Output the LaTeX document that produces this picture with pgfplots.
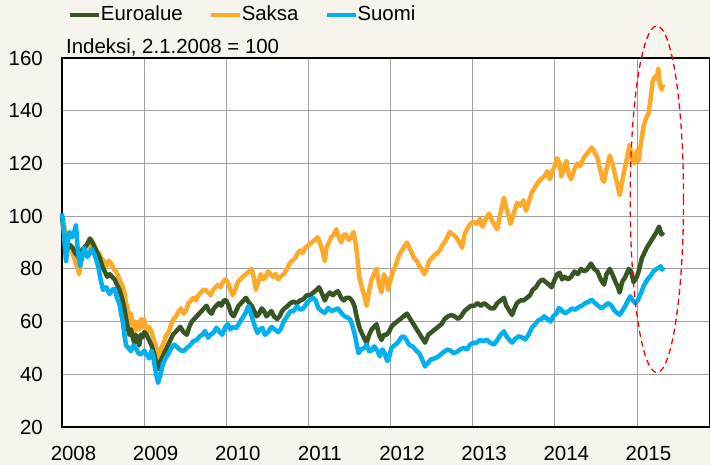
\documentclass[border=0pt]{standalone}
\usepackage{pgfplots}
\pgfplotsset{compat=1.18}
\usepackage{fontspec}
\setmainfont{Liberation Sans}
\definecolor{bg}{HTML}{F7F3ED}
\definecolor{euro}{HTML}{375623}
\definecolor{saksa}{HTML}{FDAA2A}
\definecolor{suomi}{HTML}{00B0F0}
\definecolor{gridc}{HTML}{A0A0A0}
\begin{document}
\fontsize{20.5}{24}\selectfont
\begin{tikzpicture}
\fill[bg] (-62bp,-38bp) rectangle (648bp,427bp);
\begin{axis}[
 at={(0,0)}, anchor=south west,
 scale only axis, width=648bp, height=369bp,
 xmin=2008, xmax=2015.89, ymin=20, ymax=160,
 xtick={2008,2009,2010,2011,2012,2013,2014,2015},
 ytick={20,40,60,80,100,120,140,160},
 /pgf/number format/.cd, 1000 sep={}, assume math mode=true, /pgfplots/.cd,
 tick label style={font=\fontsize{20.5}{24}\selectfont, text=black},
 xticklabel style={anchor=base, inner sep=0pt, xshift=11.5bp, yshift=-33bp},
 yticklabel style={anchor=east, inner sep=0pt, xshift=-19bp},
 major tick length=0pt,
 grid=major, major grid style={gridc, line width=0.8bp},
 axis line style={black, line width=1.5bp},
 axis background/.style={fill=white},
 clip=false,
 legend columns=3,
 legend image code/.code={\draw[#1, line width=4bp] (0bp,0bp) -- (29bp,0bp);},
 legend style={draw=none, fill=none, at={(rel axis cs:0,1)}, anchor=west,
   xshift=6bp, yshift=43bp, inner sep=0pt, outer sep=0pt,
   font=\fontsize{20.5}{24}\selectfont,
   nodes={inner sep=0pt, outer sep=0pt}},
 legend cell align=left,
]
\addlegendimage{euro}
\addlegendentry{Euroalue}
\addlegendimage{saksa, legend image code/.code={\path[draw=none] (-28bp,0bp) -- (0bp,0bp); \draw[saksa, line width=4bp] (0bp,0bp) -- (29bp,0bp);}}
\addlegendentry{Saksa}
\addlegendimage{suomi, legend image code/.code={\path[draw=none] (-28bp,0bp) -- (0bp,0bp); \draw[suomi, line width=4bp] (0bp,0bp) -- (29bp,0bp);}}
\addlegendentry{Suomi}

\addplot[saksa, line width=4.5bp, line join=round, forget plot] coordinates {
(2008.00,100)(2008.02,97)(2008.04,94)(2008.06,92)(2008.08,87)(2008.10,88)(2008.13,85.7)(2008.16,83)(2008.18,81)(2008.21,78)
(2008.24,84)(2008.26,87)(2008.29,86)(2008.32,88)(2008.36,91)(2008.39,89)(2008.42,87)(2008.45,86)(2008.48,84)(2008.51,83)
(2008.54,81)(2008.57,83)(2008.60,82)(2008.63,80)(2008.66,79)(2008.70,76)(2008.73,74)(2008.76,71)(2008.78,67)(2008.80,65)
(2008.82,60)(2008.84,63)(2008.86,58)(2008.88,56)(2008.90,60)(2008.92,59)(2008.94,57)(2008.96,61)(2008.98,58)(2009.00,61)
(2009.03,56)(2009.06,58)(2009.09,56)(2009.12,53)(2009.15,50)(2009.18,46)(2009.21,50)(2009.24,52)(2009.27,55)(2009.30,56)
(2009.33,59)(2009.36,61)(2009.39,62)(2009.42,64)(2009.45,65)(2009.48,63)(2009.51,64)(2009.54,67)(2009.57,68)(2009.60,69)
(2009.63,68)(2009.66,70)(2009.69,71)(2009.72,72)(2009.75,72)(2009.78,71)(2009.81,70)(2009.84,72)(2009.87,73)(2009.90,74)
(2009.93,73)(2009.96,75)(2009.99,76)(2010.02,75)(2010.05,72)(2010.08,70)(2010.11,72)(2010.14,75)(2010.17,76)(2010.20,77)
(2010.24,78)(2010.28,79)(2010.31,80)(2010.34,76)(2010.36,72)(2010.39,75)(2010.42,78)(2010.45,76)(2010.48,77)(2010.51,79)
(2010.54,78)(2010.57,77)(2010.60,78)(2010.63,76)(2010.66,77)(2010.70,78)(2010.74,80)(2010.77,82)(2010.80,83)(2010.84,84)
(2010.87,86)(2010.90,87)(2010.93,86)(2010.96,88)(2011.00,89)(2011.04,90)(2011.08,91)(2011.11,92)(2011.14,90)(2011.17,87)
(2011.20,83)(2011.22,88)(2011.25,90)(2011.28,92)(2011.31,93)(2011.34,95)(2011.37,92)(2011.40,90)(2011.43,93)(2011.46,93)
(2011.49,91)(2011.52,92)(2011.55,94)(2011.58,89)(2011.60,83)(2011.62,77)(2011.65,73)(2011.68,70)(2011.71,66)(2011.74,72)
(2011.77,76)(2011.80,78)(2011.83,80)(2011.86,74)(2011.89,71)(2011.92,78)(2011.95,76)(2011.97,72)(2012.00,76)(2012.03,79)
(2012.06,81)(2012.09,84)(2012.12,86)(2012.16,88)(2012.20,90)(2012.23,88)(2012.26,86)(2012.29,84)(2012.32,83)(2012.35,81)
(2012.38,80)(2012.41,78)(2012.44,80)(2012.47,83)(2012.50,84)(2012.53,85)(2012.57,86)(2012.60,87)(2012.63,89)(2012.66,90)
(2012.69,92)(2012.72,94)(2012.76,93)(2012.80,92)(2012.84,90)(2012.87,88)(2012.90,93)(2012.93,95)(2012.97,97)(2013.01,98)
(2013.05,97)(2013.09,99)(2013.12,96)(2013.16,99)(2013.20,101)(2013.24,98)(2013.28,96)(2013.30,95)(2013.33,100)(2013.36,104)
(2013.38,107)(2013.41,103)(2013.44,100)(2013.46,97)(2013.50,101)(2013.54,105)(2013.58,104)(2013.62,106)(2013.65,102)(2013.68,105)
(2013.72,109)(2013.76,111)(2013.80,113)(2013.83,114)(2013.87,115)(2013.91,117)(2013.94,114)(2013.97,117)(2014.00,119)(2014.03,122)
(2014.06,120)(2014.08,115)(2014.11,118)(2014.14,121)(2014.17,116)(2014.20,114)(2014.24,118)(2014.28,120)(2014.31,119)(2014.35,122)
(2014.40,124)(2014.45,126)(2014.49,124)(2014.52,122)(2014.55,118)(2014.58,114)(2014.60,113)(2014.63,118)(2014.67,123)(2014.70,120)
(2014.74,115)(2014.77,111)(2014.79,108)(2014.82,113)(2014.85,118)(2014.88,122)(2014.91,127)(2014.94,122)(2014.97,120)(2015.00,125)
(2015.02,121)(2015.05,128)(2015.08,134)(2015.11,137)(2015.14,139)(2015.17,145)(2015.19,151)(2015.22,153)(2015.24,152)(2015.26,156)
(2015.28,150)(2015.30,148)(2015.32,150)};

\addplot[euro, line width=4.5bp, line join=round, forget plot] coordinates {
(2008.00,100)(2008.02,94)(2008.04,91)(2008.06,90)(2008.08,88)(2008.10,89)(2008.13,88)(2008.16,86)(2008.19,85)(2008.21,84)
(2008.24,87)(2008.27,88)(2008.30,89)(2008.34,91.5)(2008.37,90)(2008.40,88)(2008.43,86)(2008.46,84)(2008.49,81)(2008.52,79)
(2008.55,77)(2008.58,78)(2008.61,77)(2008.64,76)(2008.67,74)(2008.70,72)(2008.73,69)(2008.76,65)(2008.78,61)(2008.80,58)
(2008.82,55)(2008.84,57)(2008.86,54)(2008.88,52)(2008.90,55)(2008.92,53)(2008.94,51)(2008.96,55)(2008.98,54)(2009.00,56)
(2009.03,55)(2009.06,53)(2009.09,51)(2009.12,48)(2009.15,44)(2009.17,42)(2009.20,45)(2009.23,47)(2009.26,49)(2009.29,51)
(2009.32,53)(2009.35,55)(2009.38,56)(2009.41,57)(2009.44,58)(2009.48,56)(2009.52,55)(2009.55,58)(2009.58,60)(2009.61,61)
(2009.64,62)(2009.67,63)(2009.70,64)(2009.73,65)(2009.76,66)(2009.79,64)(2009.82,63)(2009.85,65)(2009.88,66)(2009.91,67)
(2009.94,66)(2009.97,68)(2010.00,68)(2010.03,66)(2010.06,63)(2010.09,62)(2010.12,64)(2010.15,66)(2010.18,67)(2010.21,68)
(2010.24,69)(2010.28,67)(2010.31,66)(2010.34,64)(2010.37,62)(2010.40,63)(2010.43,65)(2010.46,64)(2010.49,62)(2010.52,63)
(2010.55,64)(2010.58,62)(2010.62,61)(2010.65,62)(2010.68,64)(2010.71,65)(2010.75,66)(2010.78,67)(2010.82,67.5)(2010.86,67)
(2010.90,68)(2010.94,68.5)(2010.98,70)(2011.02,70)(2011.06,71)(2011.10,72)(2011.13,73)(2011.16,71)(2011.20,68)(2011.23,70)
(2011.26,71)(2011.30,70)(2011.33,71)(2011.36,71.5)(2011.40,69)(2011.43,68)(2011.46,69)(2011.50,69)(2011.53,68)(2011.56,66)
(2011.58,63)(2011.61,59)(2011.63,57)(2011.66,55)(2011.69,53)(2011.71,52)(2011.74,55)(2011.77,57)(2011.80,58)(2011.83,59)
(2011.86,55)(2011.89,53)(2011.92,55)(2011.95,55)(2011.98,56)(2012.01,58)(2012.04,59)(2012.08,60)(2012.12,61)(2012.16,62)
(2012.20,63)(2012.24,61)(2012.28,59)(2012.32,57)(2012.36,55)(2012.40,53)(2012.42,52)(2012.46,55)(2012.50,56)(2012.54,57)
(2012.58,58)(2012.62,59)(2012.66,61)(2012.70,62)(2012.74,62.5)(2012.78,62)(2012.82,61)(2012.86,62)(2012.90,64)(2012.94,65)
(2012.98,66)(2013.02,66)(2013.06,67)(2013.10,66)(2013.14,67)(2013.18,66)(2013.22,65)(2013.26,65)(2013.30,67)(2013.34,68)
(2013.38,69)(2013.41,66)(2013.45,64)(2013.48,62.5)(2013.51,65)(2013.54,67)(2013.58,68)(2013.62,68)(2013.66,69)(2013.70,70)
(2013.73,72)(2013.77,73)(2013.81,75)(2013.85,76)(2013.89,75)(2013.93,74)(2013.96,73)(2014.00,76)(2014.03,78)(2014.06,78.5)
(2014.09,76)(2014.12,77)(2014.16,76)(2014.20,77)(2014.24,79)(2014.28,78)(2014.32,80)(2014.36,79)(2014.40,80)(2014.44,82)
(2014.48,80)(2014.52,79)(2014.56,76)(2014.60,74)(2014.63,78)(2014.67,80)(2014.70,78)(2014.74,75)(2014.77,73)(2014.79,71)
(2014.82,75)(2014.86,77)(2014.90,80)(2014.93,79)(2014.96,75)(2015.00,77)(2015.03,80)(2015.06,84)(2015.09,86)(2015.12,88)
(2015.16,90)(2015.20,92)(2015.24,94)(2015.27,96)(2015.30,93)(2015.32,94)};

\addplot[suomi, line width=4.5bp, line join=round, forget plot] coordinates {
(2008.00,101)(2008.02,95)(2008.04,86)(2008.05,83)(2008.07,90)(2008.09,94)(2008.12,92)(2008.14,93)(2008.17,96.6)(2008.19,88)
(2008.22,81)(2008.25,85)(2008.27,88)(2008.29,86)(2008.31,84.5)(2008.34,86)(2008.36,87.6)(2008.40,85)(2008.44,81)(2008.47,76)
(2008.50,72)(2008.54,73)(2008.58,70.4)(2008.61,72)(2008.64,72.4)(2008.67,69)(2008.70,66.6)(2008.72,63)(2008.74,60)(2008.76,55)
(2008.78,51)(2008.81,50)(2008.84,48.8)(2008.87,51)(2008.90,50)(2008.93,48)(2008.96,47.5)(2009.00,49)(2009.03,47.5)(2009.06,46)
(2009.09,49)(2009.11,47)(2009.14,41)(2009.17,36.7)(2009.20,40)(2009.23,44)(2009.26,46)(2009.30,48)(2009.33,50)(2009.37,51.3)
(2009.41,50)(2009.45,49)(2009.48,48.8)(2009.52,50)(2009.56,51)(2009.60,52.6)(2009.64,53)(2009.68,54.5)(2009.71,55)(2009.74,56.4)
(2009.78,53.9)(2009.81,55)(2009.85,56)(2009.88,57.7)(2009.92,56)(2009.95,55)(2009.99,58)(2010.02,59)(2010.05,57)(2010.08,58)
(2010.12,57.5)(2010.15,59)(2010.19,61)(2010.23,63)(2010.27,65.8)(2010.31,62)(2010.35,58)(2010.38,55.7)(2010.41,57)(2010.44,57.6)
(2010.47,55)(2010.51,56)(2010.55,58)(2010.59,57)(2010.63,56)(2010.66,57)(2010.70,60)(2010.74,62)(2010.78,63.9)(2010.82,64)
(2010.86,65.8)(2010.90,64.5)(2010.94,65)(2010.98,67)(2011.02,68.3)(2011.06,69)(2011.09,68)(2011.12,65.2)(2011.16,64)(2011.20,63.3)
(2011.24,65.2)(2011.28,64)(2011.32,64.5)(2011.36,65)(2011.40,63.3)(2011.44,62)(2011.48,61.5)(2011.51,60.8)(2011.54,58)(2011.57,54.4)
(2011.59,51)(2011.61,48)(2011.64,49.4)(2011.68,50)(2011.71,51.3)(2011.74,48.7)(2011.77,49)(2011.80,50.6)(2011.84,49)(2011.87,46.8)
(2011.90,49.4)(2011.93,48)(2011.96,45)(2011.98,46)(2012.01,50)(2012.05,51)(2012.09,52)(2012.13,54)(2012.16,54.4)(2012.19,53.2)
(2012.23,51)(2012.27,50.6)(2012.31,49)(2012.35,48)(2012.38,46)(2012.42,43)(2012.45,44)(2012.49,45.6)(2012.53,46)(2012.57,46.5)
(2012.61,47.5)(2012.65,48.5)(2012.69,49.4)(2012.73,49)(2012.77,48)(2012.81,48.5)(2012.85,49.5)(2012.89,50)(2012.93,49.4)(2012.97,51.3)
(2013.01,52)(2013.05,52)(2013.09,53)(2013.13,52.5)(2013.17,53.2)(2013.21,52)(2013.26,51.3)(2013.30,53)(2013.34,55)(2013.38,56.3)
(2013.42,54)(2013.45,53)(2013.48,52)(2013.52,53.5)(2013.56,54.4)(2013.60,54)(2013.64,53.2)(2013.68,55)(2013.72,57.6)(2013.76,59)
(2013.80,60.5)(2013.84,61)(2013.87,62)(2013.91,61)(2013.95,60)(2013.98,62)(2014.02,63)(2014.05,65.2)(2014.09,64)(2014.13,63.2)
(2014.17,64)(2014.21,65)(2014.25,64.5)(2014.29,65.5)(2014.33,66)(2014.37,67)(2014.41,67.5)(2014.45,68.3)(2014.49,67)(2014.53,66)
(2014.57,65)(2014.61,66)(2014.65,67)(2014.69,66)(2014.73,64)(2014.77,63)(2014.79,62.6)(2014.82,64)(2014.86,66)(2014.89,68)
(2014.92,69.6)(2014.95,68)(2014.98,67)(2015.01,68)(2015.05,70.9)(2015.09,74)(2015.13,76)(2015.17,77.5)(2015.20,79)(2015.24,80)
(2015.27,80.5)(2015.29,81)(2015.31,79.7)(2015.32,80.5)};

\draw[red, dashed, line width=1.3bp, dash pattern=on 6bp off 4bp] (axis cs:2015.243,106.4) ellipse [x radius=26.7bp, y radius=173.3bp];
\node[anchor=base west, inner sep=0pt, xshift=4bp, yshift=4bp, font=\fontsize{20.5}{24}\selectfont] at (rel axis cs:0,1) {Indeksi, 2.1.2008 = 100};
\end{axis}
\pgfresetboundingbox
\path[use as bounding box] (-62bp,-38bp) rectangle (648bp,427bp);
\end{tikzpicture}
\end{document}
